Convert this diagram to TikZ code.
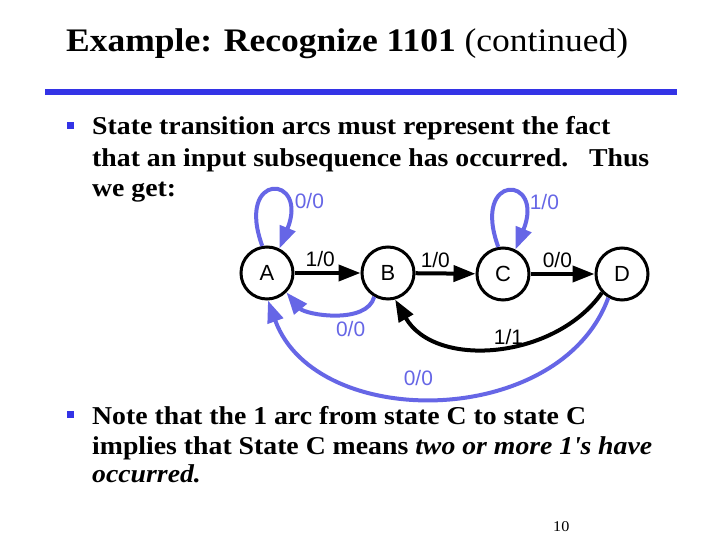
\documentclass[tikz,border=0pt]{standalone}
\usepackage{fontspec}
\setmainfont{Liberation Serif}[FakeStretch=1.08]
\setsansfont{Liberation Sans}
\definecolor{slideBlue}{RGB}{51,51,230}
\definecolor{arcBlue}{RGB}{102,102,230}
\usepackage{tikz}
\usetikzlibrary{arrows.meta}

\begin{document}
\begin{tikzpicture}[x=1bp, y=1bp,
    st/.style={circle, draw, line width=3bp, minimum size=52bp, inner sep=0pt,
               font=\sffamily\fontsize{22}{22}\selectfont},
    lbl/.style={font=\sffamily\fontsize{21}{21}\selectfont, inner sep=1bp},
    bk/.style={line width=4bp, -{Triangle[length=22bp,width=16bp]}},
    bl/.style={bk, arcBlue},
    txt/.style={anchor=base west, inner sep=0pt, font=\bfseries\fontsize{25.8}{30}\selectfont},
    bul/.style={fill=slideBlue, minimum size=7bp, inner sep=0pt}
  ]
  \fill[white] (0,0) rectangle (720,540);
  \useasboundingbox (0,0) rectangle (720,540);

  \node[anchor=base west, inner sep=0pt, font=\fontsize{33}{36}\selectfont]
    (title) at (66,488) {\textbf{Example: Recognize 1101} (continued)};
  \fill[slideBlue] (45,445) rectangle (677,451);

  \node[bul] (b1) at (70.5,414) {};
  \node[txt] (l1) at (92,405) {State transition arcs must represent the fact};
  \node[txt] (l2) at (92,373) {that an input subsequence has occurred.\ \ \ Thus};
  \node[txt] (l3) at (92,343) {we get:};

  \node[st] (A) at (267,267) {A};
  \node[st] (B) at (388,267) {B};
  \node[st] (C) at (503,266) {C};
  \node[st] (D) at (622,266) {D};

  \draw[bl] (A.100) .. controls +(110:80) and +(68:80) .. node[lbl, pos=0.7, right=8bp] {0/0} (A.63);
  \draw[bl] (C.100) .. controls +(110:80) and +(68:80) .. node[lbl, pos=0.7, right=7bp] {1/0} (C.63);
  \draw[bk] (A) -- node[lbl, above=3bp, pos=0.39] {1/0} (B);
  \draw[bk] (B) -- node[lbl, above=3bp, pos=0.33] {1/0} (C);
  \draw[bk] (C) -- node[lbl, above=3bp, pos=0.42] {0/0} (D);
  \draw[bl] (B.240) to[out=-105, in=-50, looseness=0.85] node[lbl, pos=0.35, below=5bp] {0/0} (A.-45);
  \draw[bk] (D.223) to[out=235, in=-60] node[lbl, pos=0.45, above=-2bp] {1/1} (B.-75);
  \draw[bl] (D.240) to[out=250, in=-70, looseness=1.05] node[lbl, pos=0.545, above=8bp] {0/0} (A.-88);

  \node[bul] (b2) at (70,125) {};
  \node[txt] (l4) at (92,115) {Note that the 1 arc from state C to state C};
  \node[txt] (l5) at (92,85) {implies that State C means \textit{two or more 1\textquotesingle s have}};
  \node[txt] (l6) at (92,57) {\textit{occurred.}};

  \node[anchor=base west, inner sep=0pt, font=\fontsize{15}{15}\selectfont] (pg) at (553,8) {10};
\end{tikzpicture}
\end{document}
